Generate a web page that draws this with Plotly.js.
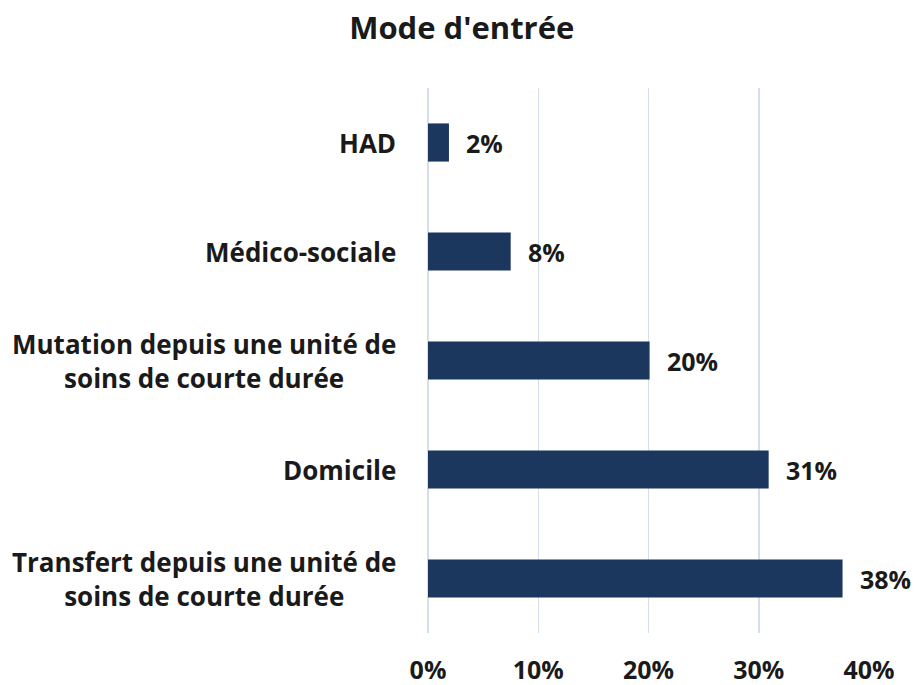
<!DOCTYPE html>
<html>
<head>
<meta charset="utf-8">
<script src="https://cdn.plot.ly/plotly-3.0.1.min.js"></script>
<style>html,body{margin:0;padding:0;background:#fff}#chart{width:918px;height:685px}</style>
</head>
<body>
<div id="chart"></div>
<script>
const categories = [
  "HAD",
  "Médico-sociale",
  "Mutation depuis une unité de<br>soins de courte durée",
  "Domicile",
  "Transfert depuis une unité de<br>soins de courte durée"
];
const values = [1.9, 7.5, 20.1, 30.9, 37.6];
const valueLabels = ["2%", "8%", "20%", "31%", "38%"];
const xTickVals = [0, 10, 20, 30, 40];
const xTickText = ["0%", "10%", "20%", "30%", "40%"];

const FONT = "'Open Sans', sans-serif";
const TXT = "#1a1a1a";

const trace = {
  type: "bar",
  orientation: "h",
  x: values,
  y: categories,
  marker: {color: "#1C375E"},
  hoverinfo: "skip"
};

const annotations = [];
categories.forEach((c, i) => {
  annotations.push({
    xref: "paper", yref: "y", x: 0, y: c,
    xanchor: "right", yanchor: "middle", xshift: -30,
    text: "<b>" + c + "</b>", showarrow: false, align: "center",
    font: {family: FONT, size: 26, color: TXT}
  });
  annotations.push({
    xref: "x", yref: "y", x: values[i], y: c,
    xanchor: "left", yanchor: "middle", xshift: 15,
    text: "<b>" + valueLabels[i] + "</b>", showarrow: false,
    font: {family: FONT, size: 25, color: TXT}
  });
});

const layout = {
  width: 918, height: 685,
  margin: {l: 428, r: 49, t: 88, b: 52},
  paper_bgcolor: "#fff", plot_bgcolor: "#fff",
  showlegend: false,
  bargap: 0.65,
  title: {
    text: "<b>Mode d'entrée</b>",
    font: {family: FONT, size: 31, color: TXT},
    xref: "container", x: 0.503, xanchor: "center",
    yref: "container", y: 1 - 28/685, yanchor: "middle"
  },
  xaxis: {
    range: [0, 40],
    tickvals: xTickVals, ticktext: xTickText,
    showgrid: true, gridcolor: "#D5DEEE", gridwidth: 1.5,
    zeroline: true, zerolinecolor: "#D5DEEE", zerolinewidth: 1.5,
    showline: false, ticks: "",
    ticklabelstandoff: 20,
    tickfont: {family: FONT, size: 25, color: TXT, weight: "bold"},
    fixedrange: true
  },
  yaxis: {
    type: "category",
    categoryorder: "array", categoryarray: categories,
    autorange: "reversed",
    showticklabels: false, showgrid: false, zeroline: false, showline: false, ticks: "",
    fixedrange: true
  },
  annotations: annotations
};

Plotly.newPlot("chart", [trace], layout, {displayModeBar: false, staticPlot: true});
</script>
</body>
</html>
